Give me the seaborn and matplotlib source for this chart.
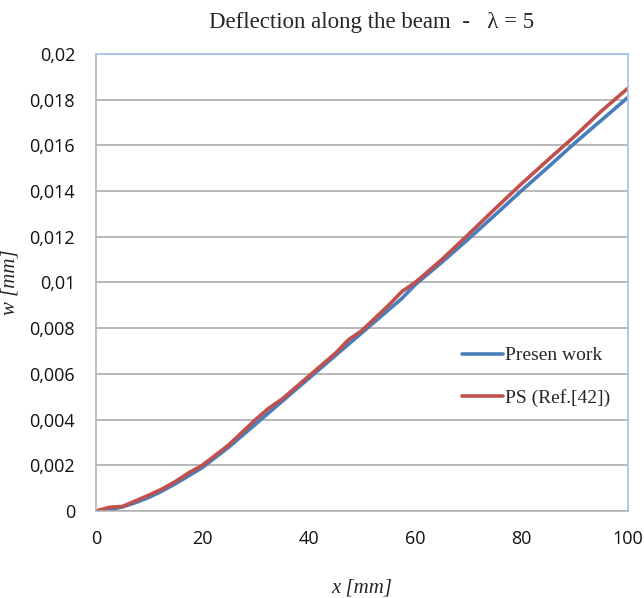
import numpy as np
import pandas as pd
import matplotlib
matplotlib.use("Agg")
import matplotlib.pyplot as plt
import seaborn as sns

x_mm = [0, 2.5, 5, 7.5, 10, 12.5, 15, 17.5, 20, 25, 30, 32.5, 35, 40, 45, 47.5, 50, 55, 57.5, 60, 65, 70, 75, 80, 85, 90, 95, 100]
presen_work = [0, 0.00005, 0.00018, 0.00037, 0.0006, 0.00088, 0.0012, 0.00155, 0.0019, 0.0028, 0.0038, 0.0043, 0.0048, 0.0058, 0.0068, 0.0073, 0.0078, 0.0088, 0.0093, 0.0099, 0.01088, 0.0119, 0.01295, 0.01402, 0.01505, 0.0161, 0.0171, 0.0181]
ps_ref42 = [0, 0.00016, 0.0002, 0.00045, 0.0007, 0.00097, 0.0013, 0.00168, 0.0020, 0.0029, 0.0040, 0.0045, 0.0049, 0.0059, 0.0069, 0.0075, 0.0079, 0.0090, 0.0096, 0.0100, 0.0110, 0.0121, 0.01322, 0.01432, 0.01537, 0.0164, 0.0175, 0.0185]
series_names = ["Presen work", "PS (Ref.[42])"]
x_ticks = [0, 20, 40, 60, 80, 100]
y_ticks = [0, 0.002, 0.004, 0.006, 0.008, 0.01, 0.012, 0.014, 0.016, 0.018, 0.02]
y_tick_labels = ["0", "0,002", "0,004", "0,006", "0,008", "0,01", "0,012", "0,014", "0,016", "0,018", "0,02"]

df = pd.DataFrame({
    "x": x_mm + x_mm,
    "w": presen_work + ps_ref42,
    "series": [series_names[0]] * len(x_mm) + [series_names[1]] * len(x_mm),
})

sns.set_style("white")
fig = plt.figure(figsize=(6.44, 5.98), dpi=100)
ax = fig.add_axes([0.149, 0.1455, 0.826, 0.7642])

palette = {series_names[0]: "#4A7EBB", series_names[1]: "#C0504D"}
sns.lineplot(data=df, x="x", y="w", hue="series", palette=palette, linewidth=2.6,
             ax=ax, legend=True)

ax.set_xlim(0, 100)
ax.set_ylim(0, 0.02)
ax.set_xticks(x_ticks)
ax.set_yticks(y_ticks)
ax.set_yticklabels(y_tick_labels)
ax.set_xticklabels([str(t) for t in x_ticks])
ax.tick_params(axis="both", length=0, labelsize=13, labelcolor="#111111")
ax.tick_params(axis="x", pad=14)
ax.tick_params(axis="y", pad=15)
for lab in ax.get_xticklabels() + ax.get_yticklabels():
    lab.set_fontfamily("Open Sans")

ax.yaxis.grid(True, color="#A6A6A6", linewidth=1.1)
ax.xaxis.grid(False)
ax.set_axisbelow(True)
for s in ["left", "bottom"]:
    ax.spines[s].set_color("#B0B0B0")
    ax.spines[s].set_linewidth(1.1)
for s in ["top", "right"]:
    ax.spines[s].set_color("#A9C4E8")
    ax.spines[s].set_linewidth(1.3)

ax.set_xlabel("x [mm]", fontfamily="Liberation Serif", fontstyle="italic", fontsize=15)
ax.set_ylabel("w [mm]", fontfamily="Liberation Serif", fontstyle="italic", fontsize=15)
ax.xaxis.set_label_coords(0.5, -0.147)
ax.yaxis.set_label_coords(-0.143, 0.5)
fig.text(0.577, 0.963, "Deflection along the beam  -   λ = 5", ha="center", va="center",
         fontfamily="Liberation Serif", fontsize=16.5)

leg = ax.legend(loc="center left", bbox_to_anchor=(0.655, 0.294), frameon=False,
                handlelength=2.1, handletextpad=0.1, labelspacing=1.25,
                prop={"family": "Liberation Serif", "size": 14})
for line in leg.get_lines():
    line.set_linewidth(2.6)

fig.savefig("out.png", dpi=100)
